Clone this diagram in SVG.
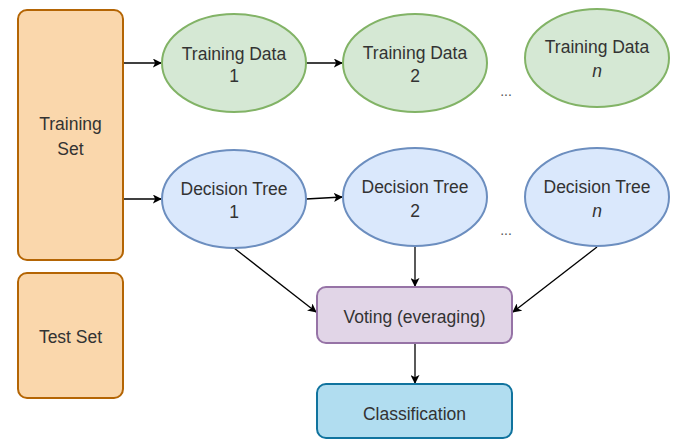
<svg xmlns="http://www.w3.org/2000/svg" width="676" height="439" viewBox="0 0 676 439">
<defs>
<style>
text{font-family:"Liberation Sans",Arial,sans-serif;font-size:17.5px;fill:#333333;text-anchor:middle}
.orange{fill:#fad7ac;stroke:#b46504;stroke-width:2}
.green{fill:#d5e8d4;stroke:#82b366;stroke-width:2}
.blue{fill:#dae8fc;stroke:#6c8ebf;stroke-width:2}
.purple{fill:#e1d5e7;stroke:#9673a6;stroke-width:2}
.cyan{fill:#b1ddf0;stroke:#10739e;stroke-width:2}
.edge{fill:none;stroke:#000000;stroke-width:1.3;marker-end:url(#arr)}
.dots{font-size:14px;fill:#555555}
</style>
<marker id="arr" viewBox="0 0 10 10" refX="9" refY="5" markerWidth="9" markerHeight="9" markerUnits="userSpaceOnUse" orient="auto">
<path d="M0,0 L10,5 L0,10 L2.5,5 Z" fill="#000000"/>
</marker>
</defs>
<g id="connectors">
<path class="edge" d="M124,63 L161,63"/>
<path class="edge" d="M306,63 L342,63"/>
<path class="edge" d="M124,199 L161,199"/>
<path class="edge" d="M306,199 L342,197"/>
<path class="edge" d="M234,248 L316,312"/>
<path class="edge" d="M415,247 L415,286"/>
<path class="edge" d="M597,247 L513,312"/>
<path class="edge" d="M415,343 L415,383"/>
</g>
<g id="training-set"><rect class="orange" x="18" y="10" width="105" height="250" rx="9"/><text x="70.5" y="130">Training</text><text x="70.5" y="155">Set</text></g>
<g id="test-set"><rect class="orange" x="18" y="273" width="105" height="125" rx="9"/><text x="70.5" y="343">Test Set</text></g>
<g id="td1"><ellipse class="green" cx="234" cy="63" rx="72" ry="49"/><text x="234" y="60">Training Data</text><text x="234" y="82">1</text></g>
<g id="td2"><ellipse class="green" cx="415" cy="63" rx="72" ry="49"/><text x="415" y="59">Training Data</text><text x="415" y="82">2</text></g>
<g id="tdn"><ellipse class="green" cx="597" cy="58" rx="72" ry="49"/><text x="597" y="53">Training Data</text><text x="597" y="77" font-style="italic">n</text></g>
<g id="dots1"><text class="dots" x="506" y="96">...</text></g>
<g id="dt1"><ellipse class="blue" cx="234" cy="199" rx="72" ry="49"/><text x="234" y="195">Decision Tree</text><text x="234" y="218">1</text></g>
<g id="dt2"><ellipse class="blue" cx="415" cy="197" rx="72" ry="49"/><text x="415" y="193">Decision Tree</text><text x="415" y="217">2</text></g>
<g id="dtn"><ellipse class="blue" cx="597" cy="197" rx="72" ry="49"/><text x="597" y="193">Decision Tree</text><text x="597" y="217" font-style="italic">n</text></g>
<g id="dots2"><text class="dots" x="506" y="235">...</text></g>
<g id="voting"><rect class="purple" x="317" y="287" width="195" height="56" rx="9"/><text x="414.5" y="323">Voting (everaging)</text></g>
<g id="classification"><rect class="cyan" x="317" y="384" width="195" height="54" rx="9"/><text x="414.5" y="420">Classification</text></g>
</svg>
